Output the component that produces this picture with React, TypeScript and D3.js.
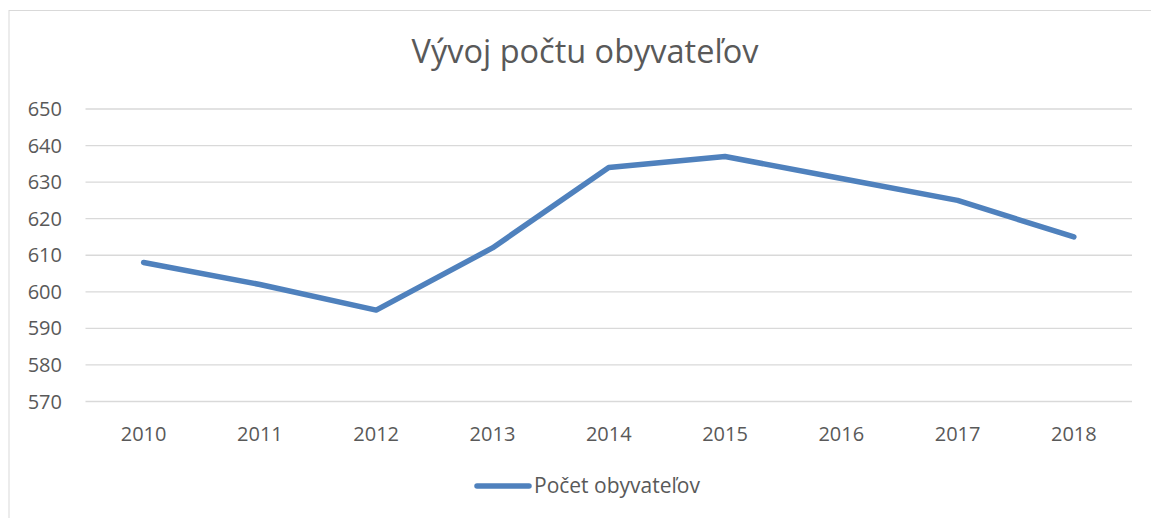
import { useEffect, useRef } from 'react'
import * as d3 from 'd3'

const years = ['2010', '2011', '2012', '2013', '2014', '2015', '2016', '2017', '2018']
const population = [608, 602, 595, 612, 634, 637, 631, 625, 615]
const yTicks = [570, 580, 590, 600, 610, 620, 630, 640, 650]
const seriesName = 'Počet obyvateľov'
const title = 'Vývoj počtu obyvateľov'

const W = 1151
const H = 518
const FONT = '"Open Sans", "Noto Sans", sans-serif'

export default function App() {
  const svgRef = useRef<SVGSVGElement>(null)

  useEffect(() => {
    if (!svgRef.current) return
    const svg = d3.select(svgRef.current)
    svg.selectAll('*').remove()

    // plot area
    const left = 85.5
    const right = 1132
    const top = 109
    const bottom = 401.5

    // outer chart border
    svg.append('rect')
      .attr('x', 9).attr('y', 10.5)
      .attr('width', W + 20).attr('height', H + 20)
      .attr('fill', '#fff').attr('stroke', '#d9d9d9').attr('stroke-width', 1)

    const x = d3.scaleBand().domain(years).range([left, right])
    const y = d3.scaleLinear().domain([570, 650]).range([bottom, top])

    // gridlines
    svg.append('g').selectAll('line').data(yTicks).join('line')
      .attr('x1', left).attr('x2', right)
      .attr('y1', d => y(d)).attr('y2', d => y(d))
      .attr('stroke', '#d9d9d9').attr('stroke-width', 1.3)

    // y labels
    svg.append('g').selectAll('text').data(yTicks).join('text')
      .attr('x', 62).attr('y', d => y(d))
      .attr('dy', '0.35em')
      .attr('text-anchor', 'end')
      .attr('font-family', FONT).attr('font-size', '20px').attr('fill', '#595959')
      .text(d => d)

    // x labels
    svg.append('g').selectAll('text').data(years).join('text')
      .attr('x', d => (x(d) ?? 0) + x.bandwidth() / 2).attr('y', 441)
      .attr('text-anchor', 'middle')
      .attr('font-family', FONT).attr('font-size', '20px').attr('fill', '#595959')
      .text(d => d)

    // series line
    const line = d3.line<number>()
      .x((_, i) => (x(years[i]) ?? 0) + x.bandwidth() / 2)
      .y(d => y(d))

    svg.append('path')
      .datum(population)
      .attr('fill', 'none')
      .attr('stroke', '#4f81bd')
      .attr('stroke-width', 5.5)
      .attr('stroke-linejoin', 'round')
      .attr('stroke-linecap', 'round')
      .attr('d', line)

    // title
    svg.append('text')
      .attr('x', 585).attr('y', 63)
      .attr('text-anchor', 'middle')
      .attr('font-family', FONT).attr('font-size', '32.5px').attr('fill', '#595959')
      .text(title)

    // legend
    svg.append('line')
      .attr('x1', 477).attr('x2', 529).attr('y1', 486).attr('y2', 486)
      .attr('stroke', '#4f81bd').attr('stroke-width', 5.5).attr('stroke-linecap', 'round')

    svg.append('text')
      .attr('x', 534).attr('y', 493)
      .attr('font-family', FONT).attr('font-size', '21px').attr('fill', '#595959')
      .text(seriesName)
  }, [])

  return (
    <svg
      ref={svgRef}
      width={W}
      height={H}
      style={{ position: 'absolute', left: 0, top: 0, display: 'block', background: '#fff' }}
    />
  )
}
